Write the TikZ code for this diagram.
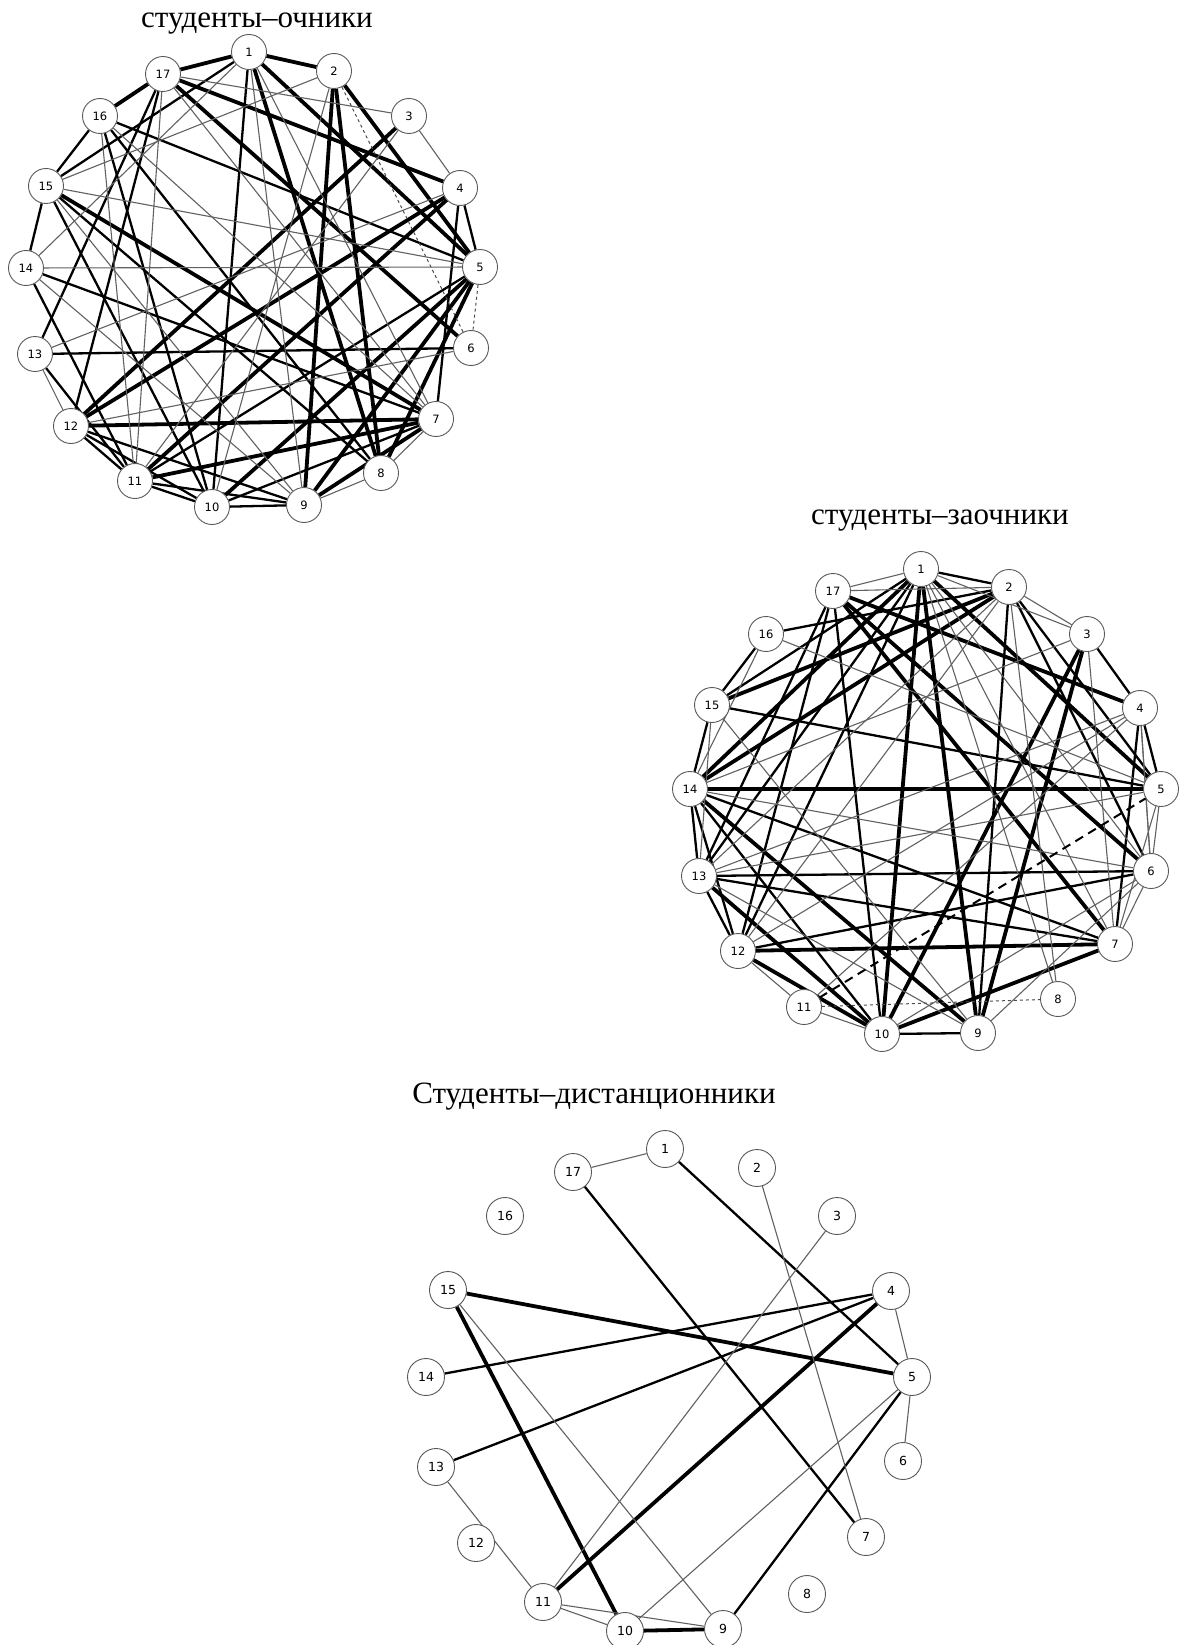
\documentclass[tikz,border=0pt]{standalone}
\usepackage{fontspec}
\setmainfont{Liberation Serif}
\newfontfamily\numfont{DejaVu Sans}
\usetikzlibrary{backgrounds}

\tikzset{
  vertex/.style={circle, draw=black!65, line width=0.9pt, fill=white,
    minimum size=35pt, inner sep=0pt, font=\numfont\fontsize{11.5}{11.5}\selectfont},
  weak/.style={line width=1.1pt, draw=black!62},
  mid/.style={line width=2.3pt, draw=black},
  strong/.style={line width=3.8pt, draw=black},
  dashweak/.style={dashed, line width=1pt, draw=black!70},
  dashmid/.style={dash pattern=on 9pt off 6pt, line width=2pt, draw=black},
  heading/.style={font=\fontsize{31}{36}\selectfont, anchor=base}
}

\begin{document}
\begin{tikzpicture}[x=1pt, y=-1pt]
    \useasboundingbox (0,0) rectangle (1181,1645);

    % Headings
    \node[heading] (ha) at (257,28) {студенты–очники};
    \node[heading] (hb) at (940,524) {студенты–заочники};
    \node[heading] (hc) at (594,1103) {Студенты–дистанционники};

    % Full-time students
    \foreach \n/\x/\y in {1/249/52, 2/334/71, 3/409/116, 4/460/188, 5/480/267,
        6/471/348, 7/436/419, 8/381/473, 9/304/505, 10/212/507, 11/135/481,
        12/71/426, 13/35/354, 14/26/268, 15/46/186, 16/100/116, 17/163/74}
      \node[vertex] (a\n) at (\x,\y) {\n};

    \begin{pgfonlayer}{background}
      \foreach \i/\j in {1/2, 1/17, 1/5, 1/8, 17/6, 17/4, 16/17, 2/9, 2/8, 2/5,
          3/12, 4/12, 4/11, 15/7, 12/7, 11/7, 5/8, 5/9, 5/10, 7/9}
        \draw[strong] (a\i) -- (a\j);
      \foreach \i/\j in {1/10, 1/15, 4/5, 4/7, 16/15, 16/5, 16/10, 16/8, 15/14,
          15/8, 15/10, 14/7, 14/11, 13/17, 13/6, 13/11, 12/17, 12/9, 12/10,
          12/11, 11/10, 11/9, 10/9, 10/7, 5/11}
        \draw[mid] (a\i) -- (a\j);
      \foreach \i/\j in {1/9, 1/14, 1/7, 2/15, 2/10, 3/4, 3/17, 3/11, 4/13,
          15/5, 15/9, 14/5, 14/9, 13/12, 12/6, 11/17, 16/11, 16/7, 17/7, 8/7, 9/8}
        \draw[weak] (a\i) -- (a\j);
      \draw[dashweak] (a2) -- (a6);
      \draw[dashweak] (a5) -- (a6);
    \end{pgfonlayer}

    % Part-time students
    \foreach \n/\x/\y in {1/921/569, 2/1009/587, 3/1087/634, 4/1140/708,
        5/1161/789, 6/1151/871, 7/1115/944, 8/1058/999, 9/978/1033,
        10/882/1034, 11/804/1007, 12/738/951, 13/699/876, 14/690/789,
        15/712/705, 16/766/634, 17/833/591}
      \node[vertex] (b\n) at (\x,\y) {\n};

    \begin{pgfonlayer}{background}
      \foreach \i/\j in {17/4, 17/6, 17/7, 1/5, 1/9, 1/10, 1/14, 2/15, 2/14,
          3/10, 3/9, 14/5, 14/9, 7/12, 7/10, 10/12, 10/13}
        \draw[strong] (b\i) -- (b\j);
      \foreach \i/\j in {1/2, 1/12, 1/13, 2/16, 2/9, 2/6, 2/5, 3/4, 4/5, 4/7,
          15/1, 15/5, 15/16, 15/14, 17/13, 17/12, 17/10, 14/7, 14/12, 14/13,
          14/10, 13/6, 13/7, 13/12, 12/6, 9/10}
        \draw[mid] (b\i) -- (b\j);
      \foreach \i/\j in {1/17, 2/17, 2/8, 2/3, 2/13, 2/12, 3/7, 3/14, 4/6,
          4/11, 4/12, 4/13, 5/6, 5/7, 5/16, 5/13, 6/7, 6/14, 6/10, 6/9, 6/1,
          6/4, 9/15, 9/13, 11/12, 11/10, 13/15, 14/16, 1/7, 1/8, 1/3}
        \draw[weak] (b\i) -- (b\j);
      \draw[dashmid] (b11) -- (b5);
      \draw[dashweak] (b11) -- (b8);
    \end{pgfonlayer}

    % Distance students
    \foreach \n/\x/\y in {1/665/1149, 2/757/1168, 3/837/1216, 4/891/1291,
        5/912/1377, 6/903/1461, 7/866/1537, 8/807/1594, 9/723/1629,
        10/625/1631, 11/543/1602, 12/476/1543, 13/436/1467, 14/426/1377,
        15/448/1290, 16/505/1216, 17/573/1172}
      \node[vertex, minimum size=37pt, font=\numfont\fontsize{12.5}{12.5}\selectfont] (c\n) at (\x,\y) {\n};

    \begin{pgfonlayer}{background}
      \foreach \i/\j in {15/5, 15/10, 4/11, 10/9}
        \draw[strong] (c\i) -- (c\j);
      \foreach \i/\j in {1/5, 17/7, 4/14, 4/13, 5/9}
        \draw[mid] (c\i) -- (c\j);
      \foreach \i/\j in {17/1, 2/7, 3/11, 4/5, 5/6, 5/10, 15/9, 13/11, 11/10, 11/9}
        \draw[weak] (c\i) -- (c\j);
    \end{pgfonlayer}
\end{tikzpicture}
\end{document}
